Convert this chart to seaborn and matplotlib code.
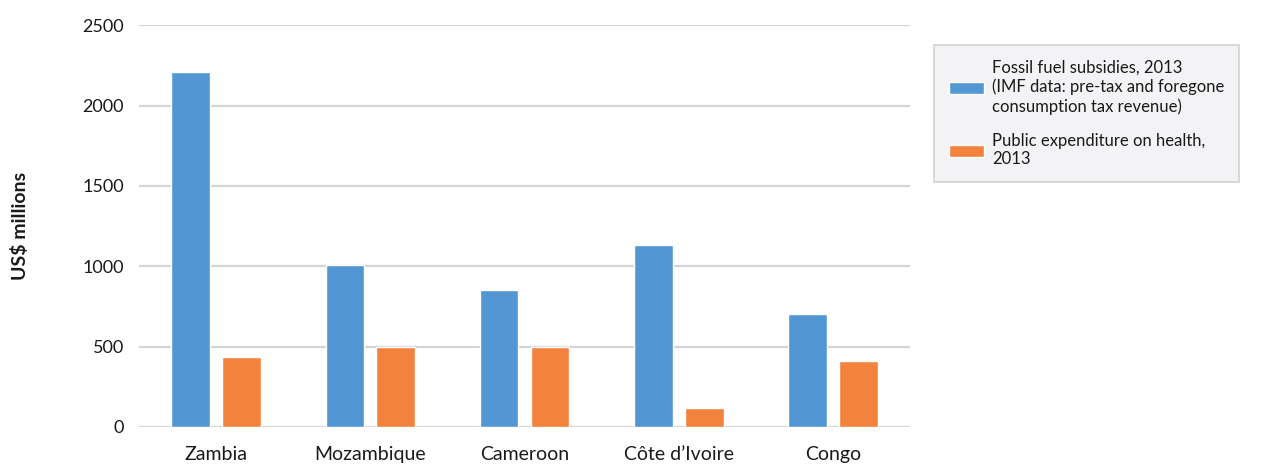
import matplotlib
matplotlib.use("Agg")
import matplotlib.pyplot as plt
import seaborn as sns
import pandas as pd

# Données
countries = ["Zambia", "Mozambique", "Cameroon", "Côte d\u2019Ivoire", "Congo"]
fossil_subsidies = [2210, 1005, 855, 1135, 705]
health_spending = [435, 500, 500, 120, 410]
series_names = ["Fossil fuel subsidies, 2013\n(IMF data: pre-tax and foregone\nconsumption tax revenue)",
                "Public expenditure on health,\n2013"]
y_ticks = [0, 500, 1000, 1500, 2000, 2500]

df = pd.DataFrame({
    "country": countries * 2,
    "value": fossil_subsidies + health_spending,
    "series": [series_names[0]] * len(countries) + [series_names[1]] * len(countries),
})

sns.set_style("white")
plt.rcParams["font.family"] = ["Lato", "DejaVu Sans"]

fig = plt.figure(figsize=(12.64, 4.70), dpi=100)
ax = fig.add_axes([0.11, 0.0915, 0.61, 0.855])

sns.barplot(data=df, x="country", y="value", hue="series", order=countries,
            hue_order=series_names, palette=["#5297d3", "#f3823c"],
            width=0.66, gap=0.24, saturation=1, errorbar=None, ax=ax)

ax.set_ylim(0, 2500)
ax.set_yticks(y_ticks)
ax.yaxis.grid(True, color="#d4d4d4", linewidth=1.6)
ax.set_axisbelow(True)
for s in ax.spines.values():
    s.set_visible(False)
ax.tick_params(axis="both", length=0, colors="#1a1a1a")
ax.tick_params(axis="y", labelsize=13, pad=11)
ax.tick_params(axis="x", labelsize=14, pad=14)
ax.set_xlabel("")
ax.set_ylabel("US$ millions", fontsize=14, fontweight="bold", color="#1a1a1a", labelpad=38)

handles, labels = ax.get_legend_handles_labels()
ax.get_legend().remove()
leg = fig.legend(handles, labels, loc="upper left", bbox_to_anchor=(0.732, 0.922),
                 frameon=True, fontsize=12, handlelength=2.1, handleheight=0.7,
                 labelspacing=1.1, borderpad=0.9, handletextpad=0.5, fancybox=False)
leg.get_frame().set_facecolor("#f0f1f3")
leg.get_frame().set_edgecolor("#c8c8c8")
leg.get_frame().set_linewidth(1.2)
for t in leg.get_texts():
    t.set_color("#1a1a1a")

fig.savefig("out.png", dpi=100)
plt.close(fig)
